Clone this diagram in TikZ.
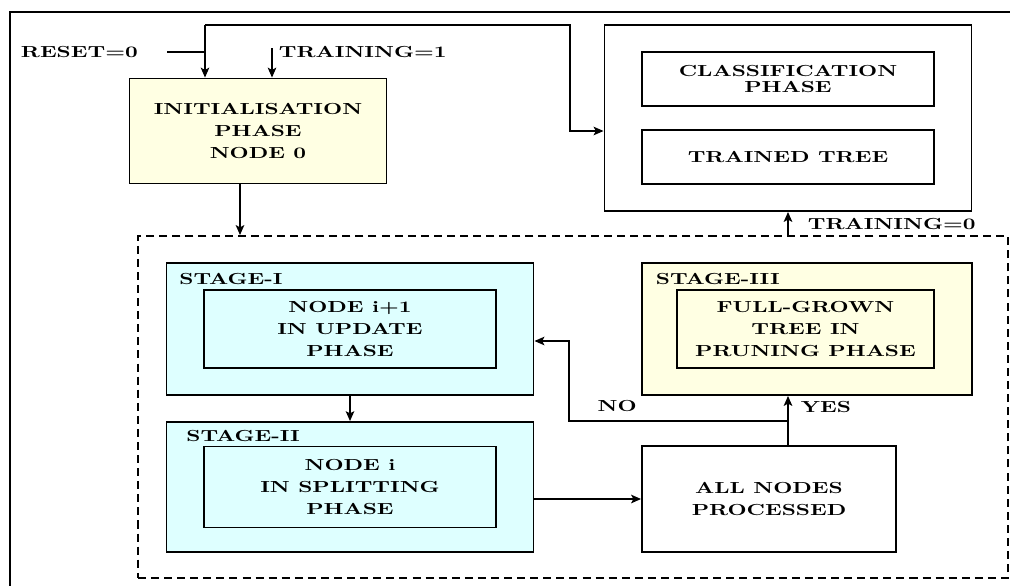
\documentclass[tikz,border=0pt]{standalone}
\usepackage{fontspec}
\usepackage{xcolor}
\usepackage{tikz}
\usetikzlibrary{arrows}
\usetikzlibrary{arrows.meta}
\usetikzlibrary{calc}
\usetikzlibrary{positioning}
\newfontfamily\flowfont{lmroman10-bold.otf}[FakeStretch=1.38]
\newcommand{\boxfont}{\flowfont\fontsize{11.4}{15.6}\selectfont}
\definecolor{initfill}{HTML}{FFFFE3}
\definecolor{stagefill}{HTML}{DEFFFF}

\begin{document}
\begin{tikzpicture}[->,>={Stealth[length=7pt,width=6pt,inset=1.5pt]},x=0.025cm,y=-0.025cm,line width=1.3pt,main node/.style={rectangle,draw,inner sep=0pt,align=center,font=\boxfont},tag node/.style={inner sep=0pt,font=\boxfont}]

    \useasboundingbox (0,0) rectangle (1010,586);
    \draw[-,line width=1.4pt] (1010,12) -- (10,12) -- (10,586);

    \node[main node,fill=initfill,minimum width=6.425cm,minimum height=2.625cm] (init) at (258,131) {INITIALISATION\\PHASE\\NODE 0};
    \node[main node,minimum width=9.175cm,minimum height=4.65cm] (trained) at (788,118) {};
    \node[main node,minimum width=7.3cm,minimum height=1.35cm,font=\flowfont\fontsize{11.4}{11.4}\selectfont] (classify) at (788,79) {CLASSIFICATION\\PHASE};
    \node[main node,minimum width=7.3cm,minimum height=1.35cm,on grid,below=1.95cm of classify] (tree) {TRAINED TREE};

    \node[main node,dashed,dash pattern=on 5.7pt off 3.6pt,minimum width=21.75cm,minimum height=8.55cm] (stages) at (573,407) {};

    \node[main node,fill=stagefill,minimum width=9.175cm,minimum height=3.3cm] (stage1) at (350,329) {};
    \node[main node,minimum width=7.3cm,minimum height=1.95cm] (update) at (stage1.center) {NODE i+1\\IN UPDATE\\PHASE};
    \node[tag node,anchor=north west] (tag1) at ($(stage1.north west)+(13,10)$) {STAGE-I};

    \node[main node,fill=stagefill,minimum width=9.175cm,minimum height=3.25cm,on grid,below=3.95cm of stage1] (stage2) {};
    \node[main node,minimum width=7.3cm,minimum height=2.025cm] (split) at (stage2.center) {NODE i\\IN SPLITTING\\PHASE};
    \node[tag node,anchor=north west] (tag2) at ($(stage2.north west)+(20,8)$) {STAGE-II};

    \node[main node,fill=initfill,minimum width=8.25cm,minimum height=3.3cm] (stage3) at (807,329) {};
    \node[main node,minimum width=6.425cm,minimum height=1.95cm] (pruning) at ($(stage3.center)+(-1.5,0)$) {FULL-GROWN\\TREE IN\\PRUNING PHASE};
    \node[tag node,anchor=north west] (tag3) at ($(stage3.north west)+(14,10)$) {STAGE-III};

    \node[main node,minimum width=6.35cm,minimum height=2.65cm] (allnodes) at (769,499) {ALL NODES\\PROCESSED};

    \node[tag node,anchor=west] (reset) at (20,52) {RESET=0};
    \node[tag node,anchor=west] (train1) at (278,52) {TRAINING=1};
    \node[tag node,anchor=west] (train0) at (807,224) {TRAINING=0};

    \coordinate (rst) at (167,52);
    \coordinate (fork) at (205,25);
    \coordinate (t1) at (272,48);

    \draw[-] (rst) -- (rst -| fork);
    \draw (fork) -- (fork |- init.north);
    \draw (fork) -- ++(365,0) |- ($(trained.west)+(0,13)$);
    \draw (t1) -- (t1 |- init.north);
    \draw ($(init.south)+(-18,0)$) coordinate (i0) -- (i0 |- stages.north);
    \draw (trained.south |- stages.north) -- (trained.south);

    \draw (stage1) -- (stage2);
    \draw (allnodes.west -| stage2.east) -- (allnodes.west);
    \draw (allnodes.north -| trained.south) -- (stage3.south -| trained.south) node[tag node,pos=0.78,right=0.3cm] (yes) {YES};

    \coordinate (back) at ($(allnodes.north -| trained.south)+(0,-24)$);
    \draw (back) -- ++(-219,0) node[tag node,pos=0.78,above=0.2cm] (no) {NO} |- ($(stage1.east)+(0,12)$);

\end{tikzpicture}
\end{document}
